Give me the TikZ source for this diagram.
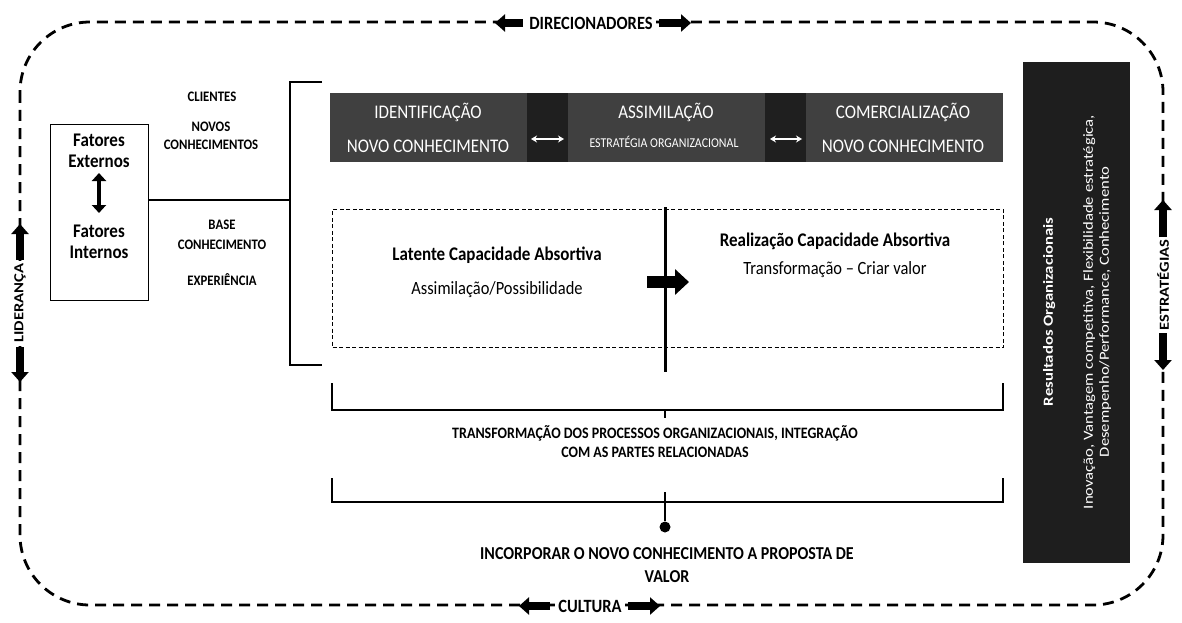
\documentclass[tikz,border=0pt]{standalone}
\usepackage{fontspec}
% horizontal captions: slightly condensed Carlito
\setmainfont{Carlito}[FakeStretch=0.88]
% upright (rotated) captions: slightly extended Carlito
\newfontfamily\rotfont{Carlito}[FakeStretch=1.2]
\usetikzlibrary{arrows.meta}

\definecolor{bandgray}{HTML}{404040}
\definecolor{blockdark}{HTML}{1F1F1F}
\definecolor{resbox}{HTML}{1E1E1E}

\newcommand{\fs}[1]{\fontsize{#1}{#1}\selectfont}

\begin{document}
\begin{tikzpicture}[x=1pt,y=-1pt,
  outer/.style={line width=2.8pt, dash pattern=on 11pt off 7pt},
  blockarr/.style={line width=8pt, -{Triangle[length=10pt,width=17pt]}},
  edgelbl/.style={font=\bfseries\fs{18.7}, fill=white, inner xsep=3pt, inner ysep=1pt},
  sidelbl/.style={font=\rotfont\bfseries\fs{13.8}, fill=white, inner xsep=3pt, inner ysep=1pt, rotate=90},
  small/.style={font=\bfseries\fs{14.5}, align=center},
  bandtxt/.style={font=\fs{19.3}, text=white},
  bandblk/.style={fill=blockdark, minimum width=41, minimum height=69, inner sep=0pt},
  warr/.style={white, line width=1.6pt, {Stealth[length=6pt,width=7pt]}-{Stealth[length=6pt,width=7pt]}},
  body/.style={font=\fs{18.7}},
  bodyb/.style={font=\bfseries\fs{19.3}},
  capb/.style={font=\bfseries\fs{15.9}, align=center},
  rule/.style={line width=1.1pt},
]
\useasboundingbox (0,0) rectangle (1182,623);

% surrounding dashed frame
\draw[outer, rounded corners=70pt] (20,22) rectangle (1163,605);

% labels sitting on the frame
\node[edgelbl] (dir) at (591,23) {DIRECIONADORES};
\coordinate (dirL) at (523,23);
\coordinate (dirLt) at (495,23);
\coordinate (dirR) at (659,23);
\coordinate (dirRt) at (691,23);
\draw[blockarr] (dirL) -- (dirLt);
\draw[blockarr] (dirR) -- (dirRt);

\node[edgelbl] (cul) at (590,606) {CULTURA};
\coordinate (culL) at (550,606);
\coordinate (culLt) at (519,606);
\coordinate (culR) at (628,606);
\coordinate (culRt) at (660,606);
\draw[blockarr] (culL) -- (culLt);
\draw[blockarr] (culR) -- (culRt);

\node[sidelbl] (lid) at (20,303) {LIDERANÇA};
\coordinate (lidU) at (20,260);
\coordinate (lidUt) at (20,224);
\coordinate (lidD) at (20,347);
\coordinate (lidDt) at (20,382);
\draw[blockarr] (lidU) -- (lidUt);
\draw[blockarr] (lidD) -- (lidDt);

\node[sidelbl] (est) at (1163,285) {ESTRATÉGIAS};
\coordinate (estU) at (1163,237);
\coordinate (estUt) at (1163,200);
\coordinate (estD) at (1163,333);
\coordinate (estDt) at (1163,370);
\draw[blockarr] (estU) -- (estUt);
\draw[blockarr] (estD) -- (estDt);

% external / internal factors
\node[draw, line width=1pt, minimum width=98, minimum height=176, anchor=north west] (fat) at (50,124) {};
\node[bodyb, align=center] (fext) at (99,151) {Fatores\\[2pt]Externos};
\node[bodyb, align=center] (fint) at (99,242) {Fatores\\[2pt]Internos};
\coordinate (fa1) at (99,173);
\coordinate (fa2) at (99,213);
\draw[line width=4.5pt, {Triangle[length=8pt,width=14pt]}-{Triangle[length=8pt,width=14pt]}] (fa1) -- (fa2);

% left bracket and link
\coordinate (brT) at (322,82);
\coordinate (brTc) at (290,82);
\coordinate (brB) at (322,365);
\coordinate (brBc) at (290,365);
\coordinate (brM) at (290,200);
\draw[rule] (brT) -- (brTc) -- (brBc) -- (brB);
\draw[rule] (fat.east |- brM) -- (brM);

\node[small] (cli) at (212,97) {CLIENTES};
\node[small] (nov) at (211,136) {NOVOS\\[3.5pt]CONHECIMENTOS};
\node[small] (base) at (222,235) {BASE\\[6pt]CONHECIMENTO};
\node[small] (exp) at (222,280) {EXPERIÊNCIA};

% process band
\node[fill=bandgray, minimum width=673, minimum height=69, anchor=north west, inner sep=0pt] (band) at (330,93) {};
\node[bandblk] (blk1) at (547.5,127.5) {};
\node[bandblk] (blk2) at (785.5,127.5) {};
\coordinate (a1l) at (531,139);
\coordinate (a1r) at (564,139);
\coordinate (a2l) at (770,139);
\coordinate (a2r) at (802,139);
\draw[warr] (a1l) -- (a1r);
\draw[warr] (a2l) -- (a2r);

\node[bandtxt] (idt) at (428,112) {IDENTIFICAÇÃO};
\node[bandtxt] (idn) at (428,146) {NOVO CONHECIMENTO};
\node[bandtxt] (ast) at (666,112) {ASSIMILAÇÃO};
\node[font=\fs{13.5}, text=white] (asn) at (664,142) {ESTRATÉGIA ORGANIZACIONAL};
\node[bandtxt] (cot) at (903,112) {COMERCIALIZAÇÃO};
\node[bandtxt] (con) at (903,146) {NOVO CONHECIMENTO};

% absorptive capacity
\node[draw, line width=1pt, dash pattern=on 4pt off 2.5pt, minimum width=671, minimum height=138, anchor=north west] (abs) at (332,209) {};
\coordinate (divT) at (665,207);
\coordinate (divB) at (665,372);
\draw[line width=3pt] (divT) -- (divB);
\coordinate (bigL) at (647,282);
\coordinate (bigR) at (689,282);
\draw[line width=12pt, -{Triangle[length=14pt,width=25pt]}] (bigL) -- (bigR);

\node[bodyb] (lat) at (497,255) {Latente Capacidade Absortiva};
\node[body] (lat2) at (497,290) {Assimilação/Possibilidade};
\node[bodyb] (rea) at (835,241) {Realização Capacidade Absortiva};
\node[body] (rea2) at (835,270) {Transformação – Criar valor};

% brackets underneath
\coordinate (b1l) at (332,383);
\coordinate (b1r) at (1003,383);
\coordinate (b1m) at (665,410);
\coordinate (b1t) at (665,418);
\draw[rule] (b1l) -- (b1l |- b1m) -- (b1r |- b1m) -- (b1r);
\draw[rule] (b1m) -- (b1t);

\node[capb] (trf) at (655,442) {TRANSFORMAÇÃO DOS PROCESSOS ORGANIZACIONAIS, INTEGRAÇÃO\\[3pt]COM AS PARTES RELACIONADAS};

\coordinate (b2l) at (332,478);
\coordinate (b2r) at (1003,478);
\coordinate (b2m) at (665,502);
\coordinate (b2t) at (665,492);
\draw[rule] (b2l) -- (b2l |- b2m) -- (b2r |- b2m) -- (b2r);
\node[circle, fill=black, inner sep=0pt, minimum size=11pt] (dot) at (665,527) {};
\draw[rule] (b2t) -- (dot);

\node[font=\bfseries\fs{18.2}, align=center] (inc) at (667,565) {INCORPORAR O NOVO CONHECIMENTO A PROPOSTA DE\\[4pt]VALOR};

% organisational results
\node[fill=resbox, minimum width=107, minimum height=501, anchor=north west, inner sep=0pt] (res) at (1023,62) {};
\node[rotate=90, text=white, align=center, font=\rotfont\fontsize{13.9}{16}\selectfont] (rest) at (1077,312)
  {\textbf{Resultados Organizacionais}\\[24pt]Inovação, Vantagem competitiva, Flexibilidade estratégica,\\Desempenho/Performance, Conhecimento};
\end{tikzpicture}
\end{document}
